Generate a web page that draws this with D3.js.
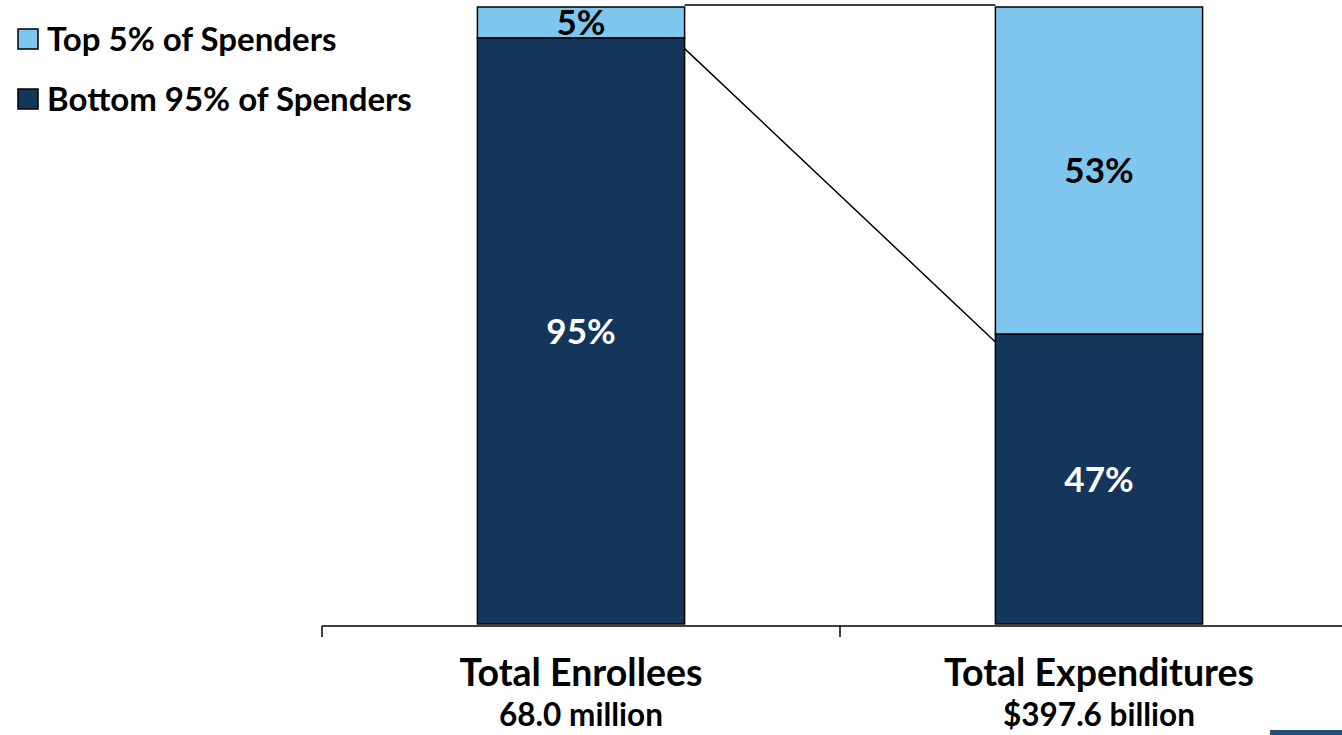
<!DOCTYPE html>
<html><head><meta charset="utf-8">
<script src="https://cdn.jsdelivr.net/npm/d3@7"></script>
<style>body{margin:0;background:#fff;}svg{display:block;font-family:Lato,"Open Sans",sans-serif;font-weight:700;}</style>
</head><body>
<svg id="c" width="1342" height="735"></svg>
<script>
const categories = ["Total Enrollees", "Total Expenditures"];
const subLabels = ["68.0 million", "$397.6 billion"];
const seriesNames = ["Bottom 95% of Spenders", "Top 5% of Spenders"];
const bottomValues = [95, 47];
const topValues = [5, 53];
const colors = ["#14365B", "#7EC6EE"];
const labelColors = ["#ffffff", "#000000"];

const svg = d3.select("#c");
const x = d3.scaleBand().domain(categories).range([322, 1358]).paddingInner(0.6).paddingOuter(0.3);
const y = d3.scaleLinear().domain([0, 100]).range([624, 7]);

const rows = categories.map((c, i) => ({cat: c, [seriesNames[0]]: bottomValues[i], [seriesNames[1]]: topValues[i]}));
const stack = d3.stack().keys(seriesNames)(rows);

// connector lines (series lines)
const xr = d => x(d) + x.bandwidth();
svg.append("line").attr("x1", xr(categories[0])).attr("x2", x(categories[1]))
  .attr("y1", y(100) - 2).attr("y2", y(100) - 2).attr("stroke", "#000").attr("stroke-width", 1.5);
svg.append("line").attr("x1", xr(categories[0]) - 4).attr("x2", x(categories[1]))
  .attr("y1", y(bottomValues[0]) + 7).attr("y2", y(bottomValues[1]) + 8).attr("stroke", "#000").attr("stroke-width", 1.5);

stack.forEach((s, si) => {
  const g = svg.append("g");
  g.selectAll("rect").data(s).join("rect")
    .attr("x", d => x(d.data.cat)).attr("width", x.bandwidth())
    .attr("y", d => y(d[1])).attr("height", d => y(d[0]) - y(d[1]))
    .attr("fill", colors[si]).attr("stroke", "#000").attr("stroke-width", 1.5);
  g.selectAll("text").data(s).join("text")
    .attr("x", d => x(d.data.cat) + x.bandwidth() / 2)
    .attr("y", d => (y(d[0]) + y(d[1])) / 2)
    .attr("dy", "0.36em").attr("text-anchor", "middle")
    .attr("font-size", 35).attr("fill", labelColors[si])
    .text(d => (d[1] - d[0]) + "%");
});

// axis
const axis = d3.axisBottom(x).tickSize(0).tickFormat("");
const ag = svg.append("g").attr("transform", "translate(0,626)").call(axis);
ag.select(".domain").attr("d", "M322,0H1358").attr("stroke", "#000").attr("stroke-width", 1.5);
ag.selectAll(".tick").remove();
// ticks at band boundaries
const bounds = [322, 322 + x.step(), 322 + 2 * x.step()];
ag.selectAll("line.b").data(bounds).join("line").attr("class", "b")
  .attr("x1", d => d).attr("x2", d => d).attr("y1", 0).attr("y2", 11).attr("stroke", "#000").attr("stroke-width", 1.5);

svg.append("g").selectAll("text").data(categories).join("text")
  .attr("x", d => x(d) + x.bandwidth() / 2).attr("y", 686)
  .attr("text-anchor", "middle").attr("font-size", 37.5).attr("fill", "#000").text(d => d);
svg.append("g").selectAll("text").data(subLabels).join("text")
  .attr("x", (d, i) => x(categories[i]) + x.bandwidth() / 2).attr("y", 726)
  .attr("text-anchor", "middle").attr("font-size", 31.5).attr("fill", "#000").text(d => d);

// legend
const legend = [seriesNames[1], seriesNames[0]];
const lg = svg.append("g").selectAll("g").data(legend).join("g")
  .attr("transform", (d, i) => `translate(18,${29 + i * 60})`);
lg.append("rect").attr("width", 20).attr("height", 20)
  .attr("fill", (d, i) => i === 0 ? colors[1] : colors[0]).attr("stroke", "#000").attr("stroke-width", 1.5);
lg.append("text").attr("x", 29).attr("y", 10).attr("dy", "0.36em")
  .attr("font-size", 33).attr("fill", "#000").text(d => d);

// corner decoration
svg.append("rect").attr("x", 1270).attr("y", 730).attr("width", 72).attr("height", 5).attr("fill", "#1F4E79");
</script>
</body></html>
